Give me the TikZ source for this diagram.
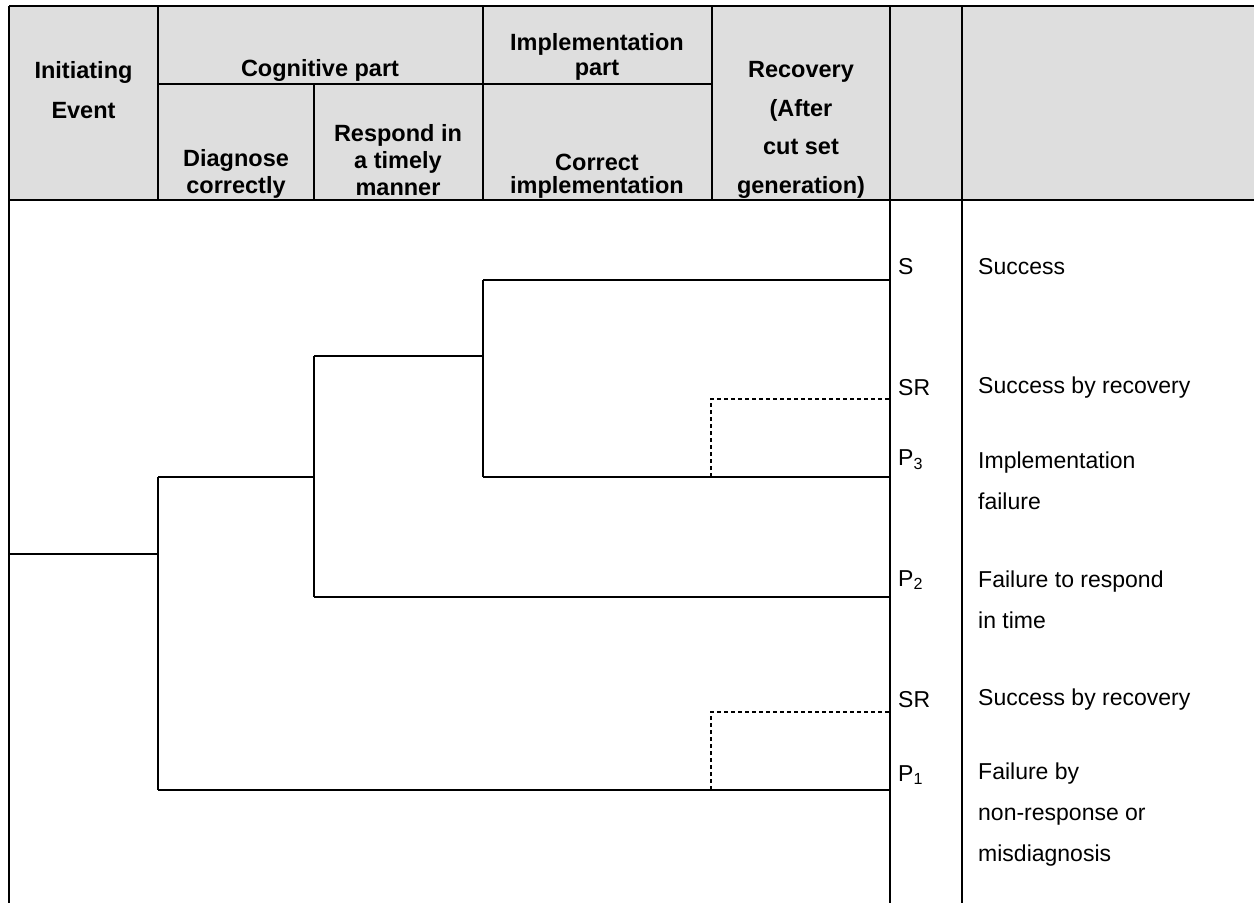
\documentclass[tikz,border=0pt]{standalone}
\usepackage{fontspec}
\setmainfont{Liberation Sans}
\begin{document}
\begin{tikzpicture}[x=1pt,y=-1pt,
  frame/.style={line width=1.6pt,black},
  tree/.style={line width=1.6pt,black},
  recov/.style={line width=1.4pt,dash pattern=on 4pt off 3pt},
  hdr/.style={font=\fontsize{23.5}{27}\selectfont\bfseries,align=center,inner sep=0pt},
  lab/.style={font=\fontsize{23}{41}\selectfont,align=left,anchor=west,inner sep=0pt},
  code/.style={font=\fontsize{23}{27}\selectfont,anchor=west,inner sep=0pt}]
\useasboundingbox (0,0) rectangle (1254,903);
\fill[white] (0,0) rectangle (1254,903);
% header background
\fill[fill={rgb,255:red,222;green,222;blue,222}] (9,6) rectangle (1254,200);
% frame lines
\draw[frame] (9,6) -- (1254,6);
\draw[frame] (9,200) -- (1254,200);
\draw[frame] (9,6) -- (9,903);
\draw[frame] (158,6) -- (158,200);
\draw[frame] (314,84) -- (314,200);
\draw[frame] (483,6) -- (483,200);
\draw[frame] (712,6) -- (712,200);
\draw[frame] (890,6) -- (890,903);
\draw[frame] (962,6) -- (962,903);
\draw[frame] (158,84) -- (712,84);
% header texts
\node[hdr,font=\fontsize{23.5}{40}\selectfont\bfseries] (hInit) at (83.5,90) {Initiating\\Event};
\node[hdr] (hCog) at (320,70) {Cognitive part};
\node[hdr,font=\fontsize{23.5}{25}\selectfont\bfseries] (hImpl) at (597,57) {Implementation\\part};
\node[hdr] (hDiag) at (236,174) {Diagnose\\correctly};
\node[hdr] (hResp) at (398,160) {Respond in\\a timely\\manner};
\node[hdr,font=\fontsize{23.5}{23}\selectfont\bfseries] (hCorr) at (597,176) {Correct\\implementation};
\node[hdr,font=\fontsize{23.5}{38.5}\selectfont\bfseries] (hRec) at (801,130) {Recovery\\(After\\cut set\\generation)};
% tree coordinates
\coordinate (ie) at (9,554);
\coordinate (d1mid) at (158,554);
\coordinate (d1top) at (158,477);
\coordinate (d1bot) at (158,790);
\coordinate (r1mid) at (314,477);
\coordinate (r1top) at (314,356);
\coordinate (r1bot) at (314,597);
\coordinate (i1mid) at (483,356);
\coordinate (i1top) at (483,280);
\coordinate (i1bot) at (483,477);
\coordinate (endS) at (890,280);
\coordinate (endP3) at (890,477);
\coordinate (endP2) at (890,597);
\coordinate (endP1) at (890,790);
\coordinate (recAa) at (711,477);
\coordinate (recAb) at (711,399);
\coordinate (recAc) at (890,399);
\coordinate (recBa) at (711,790);
\coordinate (recBb) at (711,712);
\coordinate (recBc) at (890,712);
% tree lines
\draw[tree] (ie) -- (d1mid);
\draw[tree] (d1top) -- (d1bot);
\draw[tree] (d1top) -- (r1mid);
\draw[tree] (r1top) -- (r1bot);
\draw[tree] (r1top) -- (i1mid);
\draw[tree] (i1top) -- (i1bot);
\draw[tree] (i1top) -- (endS);
\draw[tree] (i1bot) -- (endP3);
\draw[tree] (r1bot) -- (endP2);
\draw[tree] (d1bot) -- (endP1);
\draw[recov] (recAa) -- (recAb) -- (recAc);
\draw[recov] (recBa) -- (recBb) -- (recBc);
% outcome codes
\node[code] (cS) at (898,267) {S};
\node[code] (cSR1) at (898,388) {SR};
\node[code] (cP3) at (898,460) {P\textsubscript{3}};
\node[code] (cP2) at (898,580) {P\textsubscript{2}};
\node[code] (cSR2) at (898,700) {SR};
\node[code] (cP1) at (898,775) {P\textsubscript{1}};
% outcome descriptions
\node[lab] (tS) at (978,267) {Success};
\node[lab] (tSR1) at (978,388) {Success by recovery};
\node[lab] (tP3) at (978,481) {Implementation\\failure};
\node[lab] (tP2) at (978,600) {Failure to respond\\in time};
\node[lab] (tSR2) at (978,700) {Success by recovery};
\node[lab] (tP1) at (978,815) {Failure by\\non-response or\\misdiagnosis};
\end{tikzpicture}
\end{document}
